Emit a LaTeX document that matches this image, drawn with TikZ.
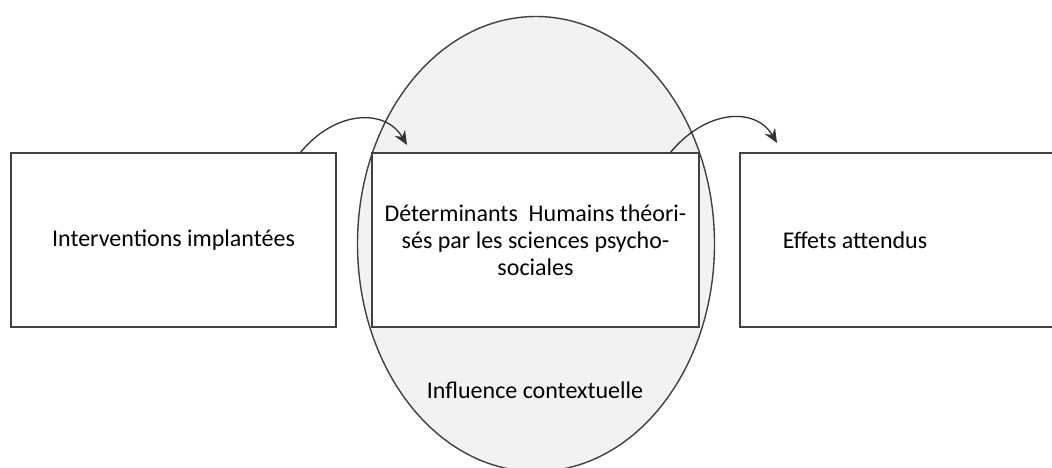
\documentclass[tikz,border=0pt]{standalone}
\usepackage{fontspec}
\setmainfont{Carlito}
\usetikzlibrary{shapes.geometric,arrows.meta}
\begin{document}
\begin{tikzpicture}
[x=1pt,y=-1pt,
  boxdecorate/.style={shape=rectangle,draw=black!75,line width=1.6pt,fill=white,
    minimum height=174pt,inner sep=0pt,font=\fontsize{24}{27}\selectfont,align=center},
  ovaldecorate/.style={shape=ellipse,draw=black!75,line width=1.4pt,fill=black!5,
    minimum width=357pt,minimum height=455pt,inner sep=0pt},
  linedecorate/.style={-{Stealth[length=14pt,width=12pt]},line width=1.3pt,draw=black!80},
  textdecorate/.style={font=\fontsize{24}{27}\selectfont}]
\useasboundingbox (0,0) rectangle (1052,468);
\clip (0,0) rectangle (1052,468);
%% context oval
\node (contexte) at (536,244) [ovaldecorate] {};
\node (influence) at (535,390) [textdecorate] {Influence contextuelle};
%% boxes
\foreach \nodename/\x/\w/\txt in {interventions/173.5/325/{Interventions implantées},
    determinants/535.5/327/{Déterminants\ \ Humains théori-\\sés par les sciences psycho-\\sociales},
    effets/905/330/{}} {
  \node (\nodename) at (\x,240) [boxdecorate,minimum width=\w pt] {\txt};
}
\node (effetstxt) at (855,240) [textdecorate] {Effets attendus};
%% arrows
\coordinate (depart1) at (300,153);
\coordinate (arrivee1) at (407,145);
\coordinate (depart2) at (670,153);
\coordinate (arrivee2) at (777,143);
\draw[linedecorate] (depart1) .. controls (335,110) and (385,108) .. (arrivee1);
\draw[linedecorate] (depart2) .. controls (705,110) and (755,106) .. (arrivee2);
\end{tikzpicture}
\end{document}
